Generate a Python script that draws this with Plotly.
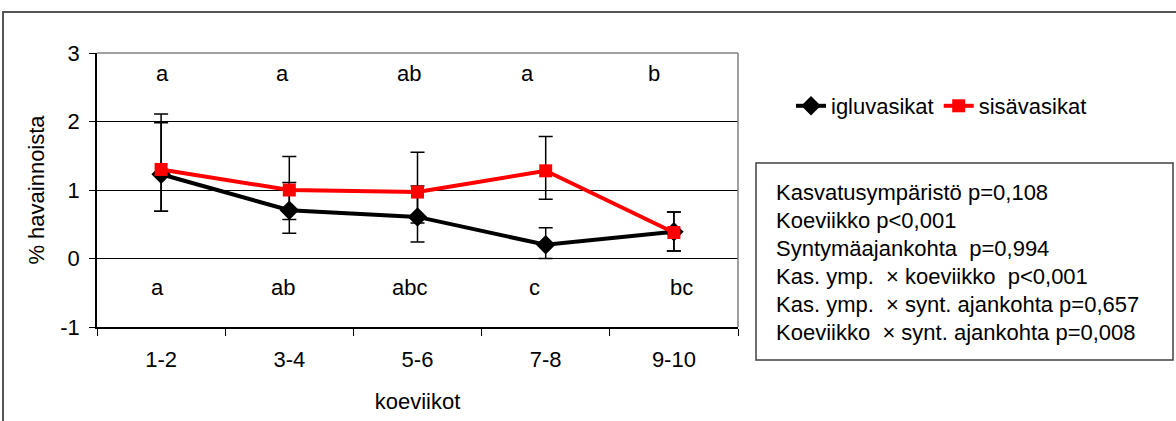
import numpy as np
import plotly.graph_objects as go

# ---------------- data ----------------
categories = ["1-2", "3-4", "5-6", "7-8", "9-10"]

iglu_mean = [1.23, 0.705, 0.607, 0.20, 0.39]
iglu_upper = [1.98, 1.11, 1.06, 0.45, 0.68]
iglu_lower = [0.69, 0.37, 0.24, 0.00, 0.11]

sisa_mean = [1.30, 1.00, 0.97, 1.28, 0.38]
sisa_upper = [2.11, 1.49, 1.55, 1.78, 0.68]
sisa_lower = [0.69, 0.57, 0.52, 0.865, 0.11]

letters_top = ["a", "a", "ab", "a", "b"]
letters_bottom = ["a", "ab", "abc", "c", "bc"]

stats_lines = [
    "Kasvatusympäristö p=0,108",
    "Koeviikko p<0,001",
    "Syntymäajankohta  p=0,994",
    "Kas. ymp.  × koeviikko  p<0,001",
    "Kas. ymp.  × synt. ajankohta p=0,657",
    "Koeviikko  × synt. ajankohta p=0,008",
]

y_ticks = [-1, 0, 1, 2, 3]
y_ticktext = ["-1", "0", "1", "2", "3"]

# ---------------- style ----------------
FONT = "Liberation Sans, Arial, sans-serif"
FS = 22
W, H = 1176, 421
ML, MR, MT, MB = 97, 438, 53, 94
top_xshift = [1, -7, -9, -18, -20]
bot_xshift = [-4, -6, -8, -11, 8]

fig = go.Figure()

im = np.array(iglu_mean)
fig.add_trace(go.Scatter(
    x=categories, y=iglu_mean, name="igluvasikat", mode="lines+markers",
    line=dict(color="black", width=4),
    marker=dict(symbol="diamond", size=15, color="black"),
    error_y=dict(type="data", symmetric=False,
                 array=np.array(iglu_upper) - im,
                 arrayminus=im - np.array(iglu_lower),
                 color="black", thickness=1.5, width=7),
))
sm = np.array(sisa_mean)
fig.add_trace(go.Scatter(
    x=categories, y=sisa_mean, name="sisävasikat", mode="lines+markers",
    line=dict(color="#ff0000", width=4),
    marker=dict(symbol="square", size=13, color="#ff0000"),
    error_y=dict(type="data", symmetric=False,
                 array=np.array(sisa_upper) - sm,
                 arrayminus=sm - np.array(sisa_lower),
                 color="black", thickness=1.5, width=7),
))

annotations = []
for i, (c, t) in enumerate(zip(categories, letters_top)):
    annotations.append(dict(x=c, y=2.7, xref="x", yref="y", text=t, showarrow=False,
                            xshift=top_xshift[i], font=dict(family=FONT, size=FS, color="black")))
for i, (c, t) in enumerate(zip(categories, letters_bottom)):
    annotations.append(dict(x=c, y=-0.42, xref="x", yref="y", text=t, showarrow=False,
                            xshift=bot_xshift[i], font=dict(family=FONT, size=FS, color="black")))

pw = W - ML - MR
ph = H - MT - MB


def px(xp):
    return (xp - ML) / pw


def py(yp):
    return (H - MB - yp) / ph


LINE0, LINE_STEP = 192, 28.1
for k, line in enumerate(stats_lines):
    annotations.append(dict(
        x=px(774), y=py(LINE0 + k * LINE_STEP), xref="paper", yref="paper",
        xanchor="left", yanchor="middle", align="left", showarrow=False,
        text=line.replace("  ", "&nbsp; "),
        font=dict(family=FONT, size=FS, color="black")))

shapes = [
    # outer frame
    dict(type="rect", xref="paper", yref="paper", x0=px(3), x1=px(1185), y0=py(12), y1=py(430),
         line=dict(color="#555555", width=2), layer="below"),
    # plot area border (grey top / right)
    dict(type="line", xref="paper", yref="paper", x0=0, x1=1, y0=1, y1=1,
         line=dict(color="#808080", width=1.5), layer="above"),
    dict(type="line", xref="paper", yref="paper", x0=1, x1=1, y0=0, y1=1,
         line=dict(color="#808080", width=1.5), layer="above"),
    # stats box
    dict(type="rect", xref="paper", yref="paper", x0=px(756), x1=px(1173), y0=py(360), y1=py(163),
         line=dict(color="#404040", width=1.5), fillcolor="white", layer="below"),
]

fig.update_layout(
    width=W, height=H, autosize=False,
    margin=dict(l=ML, r=MR, t=MT, b=MB, pad=0),
    paper_bgcolor="white", plot_bgcolor="white",
    font=dict(family=FONT, size=FS, color="black"),
    showlegend=True,
    legend=dict(orientation="h", x=px(791), y=py(85), xanchor="left", yanchor="top",
                font=dict(family=FONT, size=FS, color="black"), bgcolor="rgba(0,0,0,0)",
                itemwidth=30, tracegroupgap=0),
    annotations=annotations,
    shapes=shapes,
)
fig.update_xaxes(
    type="category", range=[-0.5, 4.5], tickson="boundaries",
    ticks="outside", ticklen=7, tickcolor="black", tickwidth=1,
    showline=True, linecolor="black", linewidth=1.5, showgrid=False, zeroline=False,
    tickfont=dict(family=FONT, size=FS, color="black"), ticklabelstandoff=12,
    title=dict(text="koeviikot", standoff=22, font=dict(family=FONT, size=FS, color="black")),
)
fig.update_yaxes(
    range=[-1, 3], tickvals=y_ticks, ticktext=y_ticktext, ticks="outside", ticklen=6,
    tickcolor="black",
    showline=True, linecolor="black", linewidth=1.5, showgrid=True, gridcolor="black",
    gridwidth=1, zeroline=False, ticklabelstandoff=5,
    tickfont=dict(family=FONT, size=FS, color="black"),
    title=dict(text="% havainnoista", standoff=10, font=dict(family=FONT, size=FS, color="black")),
)

fig.write_html("out.html")
